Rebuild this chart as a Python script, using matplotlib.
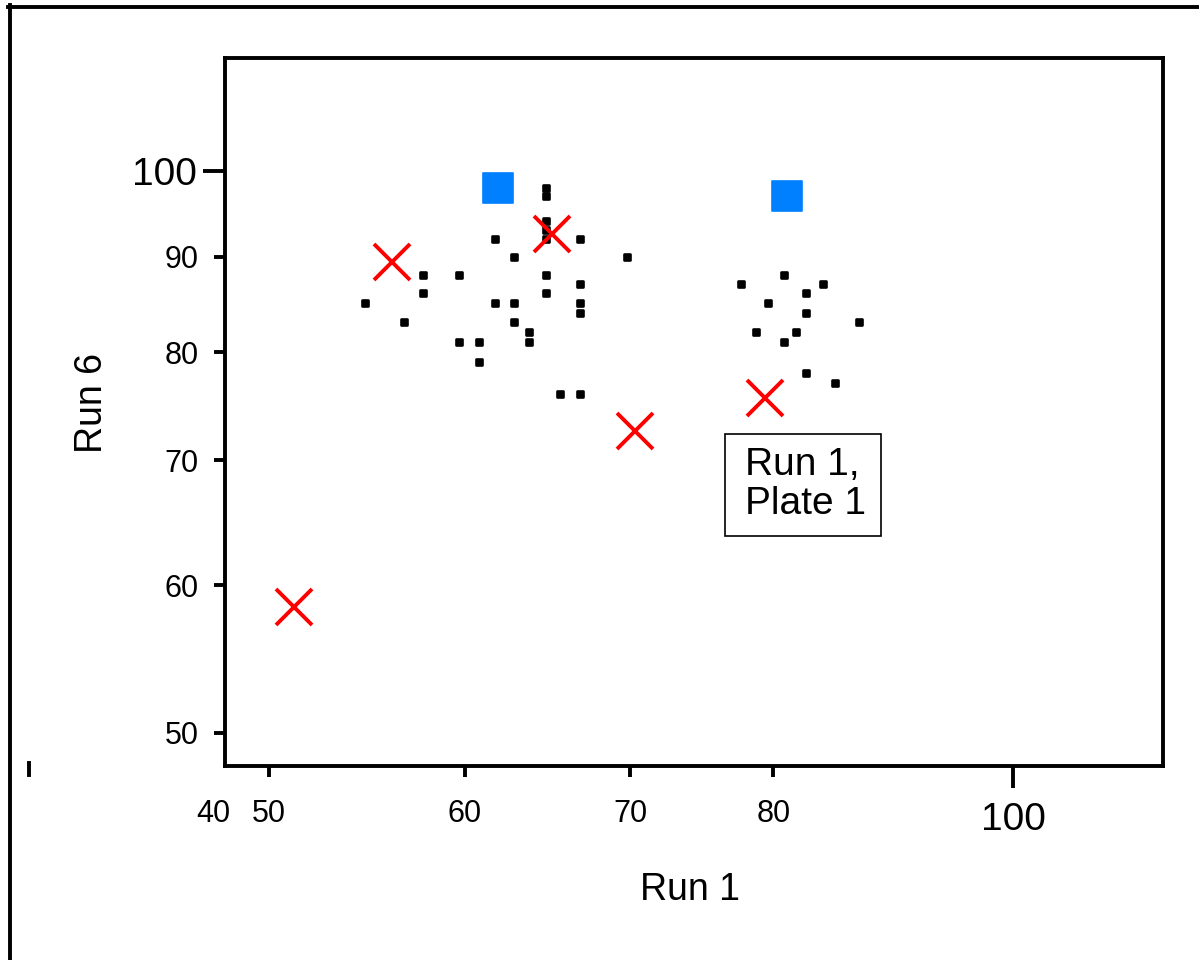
import matplotlib
matplotlib.use("Agg")
import matplotlib.pyplot as plt
from matplotlib.lines import Line2D
from matplotlib.markers import MarkerStyle
from matplotlib.patches import Rectangle

# plate 1 controls (blue squares)
ctrl_x = [61.9, 81.0]
ctrl_y = [98, 97]

# flagged wells (red crosses)
flag_x = [56.1, 65.1, 70.3, 79.4, 51.2]
flag_y = [89.4, 92.6, 72.6, 75.6, 58.4]

# remaining wells (small black dots)
well_x = [64.7, 64.7, 64.7, 64.7, 64.7, 61.7, 66.8, 62.8, 69.8, 57.7,
          59.7, 64.7, 57.7, 64.7, 66.8, 54.7, 61.7, 62.8, 66.8, 66.8,
          56.7, 62.8, 63.7, 63.7, 59.7, 60.8, 60.8, 65.6, 66.8,
          80.8, 77.6, 83.8, 82.5, 79.6, 82.5, 86.6, 78.7, 81.7, 80.8,
          82.5, 84.7]
well_y = [98, 97, 94, 93, 92, 92, 92, 90, 90, 88, 88, 88, 86, 86, 87,
          85, 85, 85, 85, 84, 83, 83, 82, 81, 81, 81, 79, 76, 76,
          88, 87, 87, 86, 85, 84, 83, 82, 82, 81, 78, 77]

x_major = [100]
x_minor = [50, 60, 70, 80]
y_major = [100]
y_minor = [50, 60, 70, 80, 90]

plt.rcParams["font.family"] = ["Liberation Sans", "DejaVu Sans"]

W, H = 1199, 960
LW = 2.8
fig = plt.figure(figsize=(W / 100, H / 100), dpi=100)
ax = fig.add_axes([225 / W, 1 - 766 / H, (1163 - 225) / W, (766 - 58) / H])

ax.plot(well_x, well_y, linestyle="none",
        marker=MarkerStyle("s", joinstyle="round"), ms=5, mew=1.9,
        color="black", zorder=3)
ax.plot(ctrl_x, ctrl_y, linestyle="none",
        marker=MarkerStyle("s", joinstyle="round"), ms=21.5, mew=1.2,
        color="#0080ff", zorder=2)
ax.plot(flag_x, flag_y, linestyle="none", marker="x", ms=26.5, mew=2.8,
        color="#ff0000", zorder=4)

ax.set_xscale("log")
ax.set_yscale("log")
ax.set_xlim(48, 115)
ax.set_ylim(48, 115)

ax.set_xticks(x_major)
ax.set_xticklabels([str(v) for v in x_major])
ax.set_xticks(x_minor, minor=True)
ax.set_xticklabels([str(v) for v in x_minor], minor=True)
ax.set_yticks(y_major)
ax.set_yticklabels([str(v) for v in y_major])
ax.set_yticks(y_minor, minor=True)
ax.set_yticklabels([str(v) for v in y_minor], minor=True)

ax.tick_params(axis="both", which="both", width=LW, color="black")
ax.tick_params(axis="both", which="major", length=16, labelsize=28)
ax.tick_params(axis="both", which="minor", length=8, labelsize=22)
ax.tick_params(axis="y", which="major", pad=4)
ax.tick_params(axis="y", which="minor", pad=11)
ax.tick_params(axis="x", which="major", pad=10)
ax.tick_params(axis="x", which="minor", pad=16)

for s in ax.spines.values():
    s.set_linewidth(LW)

# stray "40" tick, drawn outside the axes like in the original
ax.plot([40, 40], [0.004, -0.013], color="black", lw=LW,
        transform=ax.get_xaxis_transform(), clip_on=False)
ax.text(-0.0128, -0.046, "40", transform=ax.transAxes, fontsize=22,
        ha="center", va="top")

fig.text(690 / W, 1 - 900 / H, "Run 1", fontsize=27, ha="center",
         va="baseline")
fig.text(92 / W, 1 - 403 / H, "Run 6", fontsize=27, rotation=90,
         ha="center", va="center")

# annotation box
fig.patches.append(Rectangle((725 / W, 1 - 536 / H), 156 / W, 102 / H,
                             transform=fig.transFigure, fill=False,
                             lw=1.2, edgecolor="black"))
fig.text(745 / W, 1 - 475 / H, "Run 1,", fontsize=28, va="baseline")
fig.text(745 / W, 1 - 514 / H, "Plate 1", fontsize=28, va="baseline")

# partial frame round the figure
fig.add_artist(Line2D([8 / W, 1], [1 - 6.5 / H, 1 - 6.5 / H], lw=LW,
                      color="black", transform=fig.transFigure))
fig.add_artist(Line2D([9.5 / W, 9.5 / W], [0, 1 - 5 / H], lw=LW,
                      color="black", transform=fig.transFigure))

fig.savefig("out.png", dpi=100)
